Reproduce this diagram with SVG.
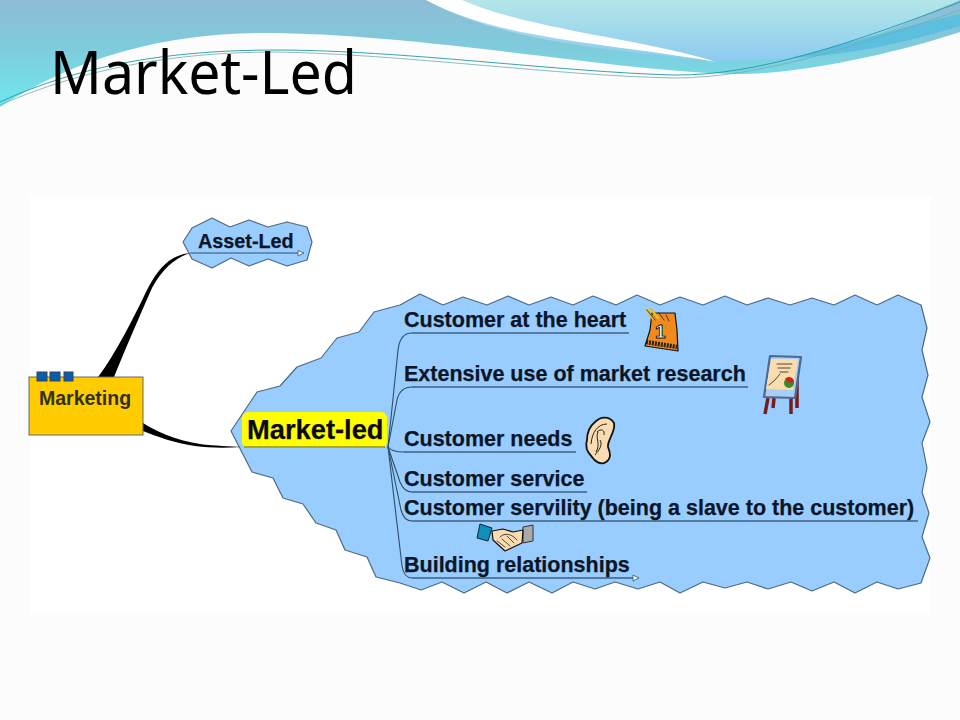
<svg xmlns="http://www.w3.org/2000/svg" width="960" height="720" viewBox="0 0 960 720">
<style>
.cloud{fill:#99ccff;stroke:#4d6b80;stroke-width:1.2;stroke-linejoin:round}
.lbl{font-family:"Liberation Sans",Arial,sans-serif;font-weight:700;fill:#0a1626;stroke:#0a1626;stroke-width:0.25}
.ln{fill:none;stroke:#3f5f78;stroke-width:1.5}
.fine{fill:none;stroke:#2f4f68;stroke-width:1.1}
.ol{stroke:#111;stroke-width:1.2;stroke-linejoin:round;stroke-linecap:round}
.sc{fill:none;stroke:#222;stroke-width:0.8;stroke-linecap:round;stroke-linejoin:round}
</style>
<defs>
<linearGradient id="gMain" x1="0" y1="0" x2="0" y2="1"><stop offset="0" stop-color="#8dbcd6"/><stop offset="0.45" stop-color="#7fcbdc"/><stop offset="1" stop-color="#6fe8ef"/></linearGradient>
<linearGradient id="gLight" x1="0" y1="0" x2="0" y2="1"><stop offset="0" stop-color="#b4e6e8"/><stop offset="1" stop-color="#8ccaf0"/></linearGradient>
</defs>
<rect width="960" height="720" fill="#fcfcfc"/>
<rect x="30" y="196" width="901" height="419" fill="#fff"/>
<g id="header">
<path d="M0,0H960V32C900,52 800,75 735,74C620,72 420,33 263,33C170,33 80,55 0,107Z" fill="url(#gMain)"/>
<path d="M426,0C510,45 620,50 716,62L800,50L800,0Z" fill="url(#gLight)"/>
<path d="M426,0C500,40 610,43 716,62C650,40 530,30 462,0Z" fill="#fff"/>
<path d="M800,0H960C900,25 860,45 790,58L716,62C750,55 760,0 800,0Z" fill="url(#gLight)"/>
<path d="M790,58C860,40 910,25 960,14V26C900,44 850,55 790,58Z" fill="#5cbfe0"/>
<path d="M0,102C80,65 170,50 276,50C400,50 560,72 674,75C760,76 860,40 960,2" fill="none" stroke="#1f9aa8" stroke-width="0.9"/>
<path d="M0,105C80,70 170,52 276,52C400,54 560,76 674,78C760,78 860,45 960,10" fill="none" stroke="#7aa" stroke-width="0.8"/>
</g>
<text x="50" y="94" font-family="'Noto Sans',sans-serif" font-size="60" fill="#000" textLength="307" lengthAdjust="spacingAndGlyphs">Market-Led</text>
<g id="asset-led">
<path class="cloud" d="M183,242L192,228L212,218L230,227L249,220L268,227L287,222L307,227L312,242L307,260L287,266L268,259L249,266L231,258L212,268L192,259Z"/>
<text class="lbl" x="198" y="248" font-size="19.8">Asset-Led</text>
</g>
<g id="market-led-cloud">
<path class="cloud" d="M231,431L257,392L280,386L297,367L321,358L337,338L359,332L374,312L400,305L420,294L443,305L463,297L487,305L508,296L529,305L551,297L573,305L593,296L616,305L637,295L660,305L680,297L703,305L725,296L747,305L768,298L790,305L812,298L834,305L855,295L877,305L898,295L921,305L927,328L922,350L928,375L922,397L930,422L922,443L927,468L922,492L929,513L922,537L930,558L921,583L898,589L877,582L855,593L834,582L812,591L791,582L768,589L747,582L725,588L703,582L680,593L660,582L638,589L615,582L595,589L573,582L552,593L529,582L507,593L486,582L464,593L442,582L421,590L400,583L376,577L367,557L345,550L336,530L316,523L303,504L283,498L273,478L252,472Z"/>
</g>
<g id="connectors">
<path d="M98,377C115,355 135,315 147,290C160,265 172,255 190,253C175,258 163,268 152,288C140,315 125,350 114,377Z" fill="#000"/>
<path d="M190,253H299" class="fine"/>
<path d="M143,423C155,431 175,440 200,444C215,446 230,446 242,447C225,448 210,448 195,446C175,443 158,437 143,431Z" fill="#000"/>
<path class="fine" d="M388,447L398,350Q400,333 412,333"/>
<path class="ln" d="M412,333H629"/>
<path class="fine" d="M388,447L397,400Q400,387 412,387"/>
<path class="ln" d="M412,387H748"/>
<path class="fine" d="M388,447Q392,452 404,452"/>
<path class="ln" d="M404,452H576"/>
<path class="fine" d="M388,447L400,482Q404,492 412,492"/>
<path class="ln" d="M412,492H587"/>
<path class="fine" d="M388,447L401,510Q404,521 412,521"/>
<path class="ln" d="M412,521H918"/>
<path class="fine" d="M388,447L402,566Q404,578 412,578"/>
<path class="ln" d="M412,578H633"/>
<path d="M298,250.5L304,253L298,256Z" fill="#fff" stroke="#3f5f78" stroke-width="0.9"/>
<path d="M633,575L639,578L633,581Z" fill="#fff" stroke="#3f5f78" stroke-width="0.9"/>
</g>
<g id="marketing">
<rect x="29" y="377" width="114" height="58" fill="#ffcc00" stroke="#666" stroke-width="1"/>
<rect x="37" y="372" width="10" height="9" fill="#0a5cae" stroke="#345"/>
<rect x="50" y="372" width="10" height="9" fill="#0a5cae" stroke="#345"/>
<rect x="64" y="372" width="9" height="9" fill="#0a5cae" stroke="#345"/>
<text x="39" y="405" font-family="'Liberation Sans',sans-serif" font-weight="700" font-size="19.5" fill="#33301a">Marketing</text>
</g>
<g id="market-led">
<rect x="242" y="412" width="145" height="36" rx="6" fill="#ffff00"/>
<path d="M244,447H385" stroke="#5a5a20" stroke-width="1.2"/>
<text class="lbl" x="247" y="439" font-size="27.3" style="fill:#0a0a10">Market-led</text>
</g>
<g id="branches">
<text class="lbl" x="404" y="327" font-size="21.5">Customer at the heart</text>
<text class="lbl" x="404" y="381" font-size="21.5">Extensive use of market research</text>
<text class="lbl" x="404" y="446" font-size="21.5">Customer needs</text>
<text class="lbl" x="404" y="486" font-size="21.5">Customer service</text>
<text class="lbl" x="404" y="515" font-size="21.5">Customer servility (being a slave to the customer)</text>
<text class="lbl" x="404" y="572" font-size="21.5">Building relationships</text>
</g>
<g id="icon-priority">
<path class="ol" d="M652,313L675,313L677,330L678,351L645,346L650,330Z" fill="#f08a1c"/>
<path d="M647,310L653,319M651,309L658,318" stroke="#e8c020" stroke-width="2.4" stroke-linecap="round"/>
<path class="sc" d="M647,310L655,320M659,313L664,320M666,315L669,321"/>
<text x="655" y="338" font-family="'Liberation Sans',sans-serif" font-weight="700" font-size="19" fill="#fff" stroke="#111" stroke-width="0.9">1</text>
<path d="M646,342L677,347" stroke="#222" stroke-width="4.5" stroke-dasharray="2 1"/>
</g>
<g id="icon-easel">
<path d="M797,378V408M768,398L765,414M774,398L773,408M791,398V414" stroke="#7a1a1a" stroke-width="3.5" fill="none"/>
<path d="M770,356L801,357L795,398L764,397Z" fill="#aacdf5" stroke="#4a6a90" stroke-width="2.2" stroke-linejoin="round"/>
<path d="M771,359L798,359L793,390L766,389Z" fill="#fbdcae"/>
<path class="sc" d="M777,364H792M778,368H790M780,372H788M769,385L775,380L780,374"/>
<circle cx="789" cy="383" r="5" fill="#3a8a2a"/>
<path d="M789,383L785,379A5,5 0 0 1 794,382Z" fill="#c8281e"/>
</g>
<g id="icon-ear">
<path d="M595,422C600,417 609,415 614,423C616,432 607,440 608,447C610,452 612,458 606,462C600,466 594,460 592,457C587,452 585,446 587,440C587,432 590,426 595,422Z" fill="#fbdcb0" stroke="#111" stroke-width="1.8" stroke-linejoin="round"/>
<path d="M591,444C592,432 598,424 607,424M598,432C595,438 601,444 596,452M597,432C601,428 605,430 604,435M600,440C603,445 599,450 595,455" fill="none" stroke="#222" stroke-width="1"/>
</g>
<g id="icon-handshake">
<path d="M480,524L492,528L488,541L477,538Z" fill="#1090b8" stroke="#123"/>
<path d="M523,527L533,525L533,541L523,543Z" fill="#aaa" stroke="#333"/>
<path class="ol" d="M492,531L503,529L513,532L523,530L522,543L505,551L493,540Z" fill="#fbdcb0"/>
<path class="sc" d="M500,537C505,532 512,534 517,540M497,541L505,547M502,539L510,546M507,536L514,543"/>
</g>
</svg>
